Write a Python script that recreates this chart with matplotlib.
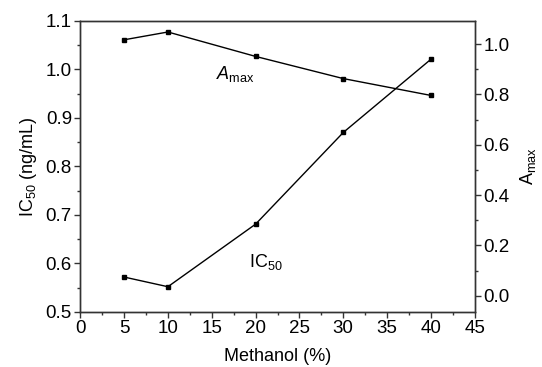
import matplotlib
matplotlib.use("Agg")
import matplotlib.pyplot as plt
from matplotlib.ticker import MultipleLocator

plt.rcParams['font.family'] = ['Liberation Sans', 'DejaVu Sans']
plt.rcParams['mathtext.fontset'] = 'custom'
plt.rcParams['mathtext.rm'] = 'Liberation Sans'
plt.rcParams['mathtext.it'] = 'Liberation Sans:italic'

# Data
methanol = [5, 10, 20, 30, 40]
ic50 = [0.572, 0.552, 0.681, 0.870, 1.021]
amax = [1.017, 1.048, 0.951, 0.863, 0.796]

fig, ax = plt.subplots(figsize=(5.42, 3.67), dpi=100)
fig.subplots_adjust(left=0.148, right=0.876, top=0.943, bottom=0.150)

ax.plot(methanol, ic50, color='black', lw=1.0, marker='s', markersize=3.5)
ax.set_xlim(0, 45)
ax.set_ylim(0.5, 1.1)
ax.xaxis.set_major_locator(MultipleLocator(5))
ax.xaxis.set_minor_locator(MultipleLocator(2.5))
ax.yaxis.set_major_locator(MultipleLocator(0.1))
ax.yaxis.set_minor_locator(MultipleLocator(0.05))
ax.yaxis.set_major_formatter(plt.FormatStrFormatter('%.1f'))
ax.set_xlabel('Methanol (%)', fontsize=13, labelpad=8)
ax.set_ylabel('IC$_{50}$ (ng/mL)', fontsize=13, labelpad=5)
ax.text(19.3, 0.603, 'IC$_{50}$', fontsize=13, va='center')

ax2 = ax.twinx()
ax2.plot(methanol, amax, color='black', lw=1.0, marker='s', markersize=3.5)
ax2.set_ylim(-0.064, 1.092)
ax2.yaxis.set_major_locator(MultipleLocator(0.2))
ax2.yaxis.set_minor_locator(MultipleLocator(0.1))
ax2.yaxis.set_major_formatter(plt.FormatStrFormatter('%.1f'))
ax2.set_ylabel('A$_{\\mathrm{max}}$', fontsize=13, labelpad=6)
ax.text(15.5, 0.99, '$\\mathit{A}_{\\mathrm{max}}$', fontsize=13, va='center')

for a in (ax, ax2):
    for s in a.spines.values():
        s.set_color('#333333')
        s.set_linewidth(1.0)
    a.tick_params(which='major', direction='out', length=4, width=1, labelsize=13.5, color='#333333', pad=2)
    a.tick_params(which='minor', direction='out', length=2.5, width=1, color='#333333')
ax.tick_params(top=False, right=False, which='both')

fig.savefig('out.png', dpi=100)
